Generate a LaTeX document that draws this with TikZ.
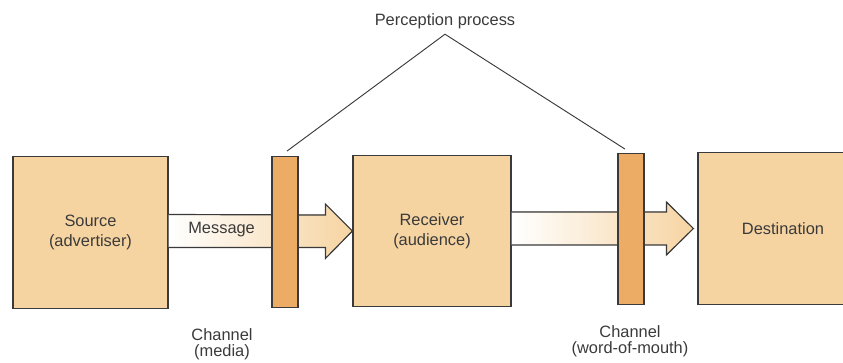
\documentclass[tikz,border=0pt]{standalone}
\usepackage{fontspec}
\setmainfont{Liberation Sans}
\usetikzlibrary{calc}
\definecolor{boxtan}{HTML}{F6D4A2}
\definecolor{chanorange}{HTML}{EDAC66}
\definecolor{inkgray}{HTML}{3A3A3A}

\begin{document}
\begin{tikzpicture}[x=0.03cm,y=0.03cm,
    font=\fontsize{14}{17}\selectfont,text=inkgray,
    stage/.style={draw=inkgray,line width=1pt,fill=boxtan,align=center,inner sep=0pt,minimum height=4.55cm},
    chan/.style={draw=inkgray,line width=1pt,fill=chanorange,inner sep=0pt,minimum width=0.78cm,minimum height=4.52cm},
    flow/.style={left color=white,right color=boxtan},
    flowline/.style={draw=inkgray,line width=1pt,line join=miter},
    caption/.style={align=center,inner sep=0pt,font=\fontsize{14}{14}\selectfont}]
\useasboundingbox (0,0) rectangle (843,362);
\clip (0,0) rectangle (843,362);

% boxes
\node[stage,minimum width=4.65cm] (source) at (90.5,129.5) {Source\\(advertiser)};
\node[stage,minimum width=4.74cm] (receiver) at (432,131) {Receiver\\(audience)};
\node[stage,minimum width=5.1cm] (dest) at (783,133.5) {Destination};

% message arrows
\fill[flow] ($(source.east |- receiver.west)+(0,-16.5)$) -- ($(receiver.west)+(-27,-16.5)$) -- ++(0,-11)
  -- (receiver.west) -- ++(-27,27) -- ++(0,-11) -- ($(source.east |- receiver.west)+(0,16.5)$) -- cycle;
\draw[flowline] ($(source.east |- receiver.west)+(0,-16.5)$) -- ($(receiver.west)+(-27,-16.5)$) -- ++(0,-11)
  -- (receiver.west) -- ++(-27,27) -- ++(0,-11) -- ($(source.east |- receiver.west)+(0,16.5)$);
\node at ($(source.east |- receiver.west)+(53,1)$) {Message};

\fill[flow] ($(receiver.east |- dest.west)+(0,-16.5)$) -- ($(dest.west)+(-31,-16.5)$) -- ++(0,-10)
  -- ($(dest.west)+(-4,0)$) -- ++(-27,26.5) -- ++(0,-10) -- ($(receiver.east |- dest.west)+(0,16.5)$) -- cycle;
\draw[flowline] ($(receiver.east |- dest.west)+(0,-16.5)$) -- ($(dest.west)+(-31,-16.5)$) -- ++(0,-10)
  -- ($(dest.west)+(-4,0)$) -- ++(-27,26.5) -- ++(0,-10) -- ($(receiver.east |- dest.west)+(0,16.5)$);

% channels
\node[chan] (chanA) at (285,130) {};
\node[chan] (chanB) at (631,133) {};
\node[caption] (chanAtext) at (222,17.5) {Channel\\(media)};
\node[caption] (chanBtext) at (630,20.5) {Channel\\(word-of-mouth)};

% perception
\node[inner sep=2pt] (percep) at (445,341) {Perception process};
\draw[inkgray,line width=0.8pt] ($(chanA.north)+(2,5)$) -- ($(percep.south)+(0,-3)$) -- ($(chanB.north)+(-6,4)$);
\end{tikzpicture}
\end{document}
